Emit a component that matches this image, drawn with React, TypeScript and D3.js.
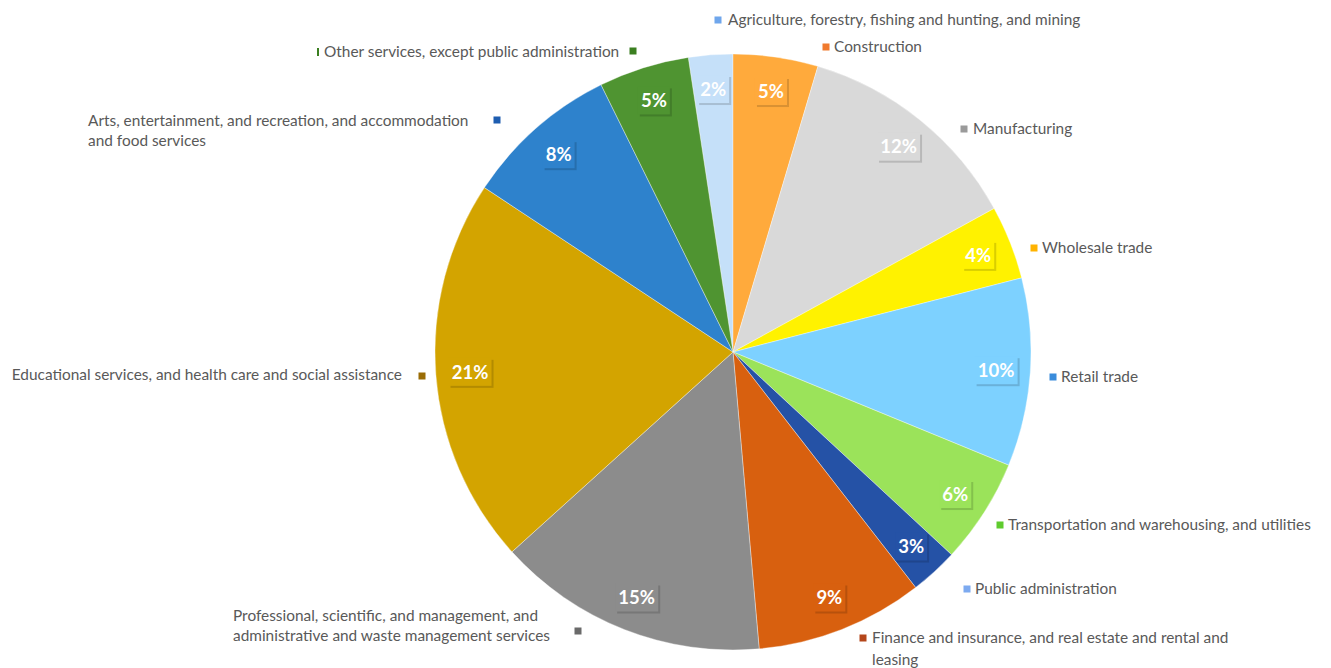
import React from "react";
import * as d3 from "d3";

const categories = [
  "Agriculture, forestry, fishing and hunting, and mining",
  "Construction",
  "Manufacturing",
  "Wholesale trade",
  "Retail trade",
  "Transportation and warehousing, and utilities",
  "Public administration",
  "Finance and insurance, and real estate and rental and leasing",
  "Professional, scientific, and management, and administrative and waste management services",
  "Educational services, and health care and social assistance",
  "Arts, entertainment, and recreation, and accommodation and food services",
  "Other services, except public administration",
];
const values = [2.4, 4.6, 12.4, 4.0, 10.2, 5.7, 2.6, 9.1, 14.7, 21.0, 8.4, 4.9];

const sliceColors = [
  "#C5E0F9", "#FFAA3C", "#D9D9D9", "#FFF200", "#7DD1FF", "#9BE35A",
  "#2552A6", "#D8600F", "#8C8C8C", "#D3A400", "#2E82CC", "#4F9431",
];
const markerColors = [
  "#6FA6EC", "#F07A2E", "#9A9A9A", "#FFB300", "#3A8CDB", "#5FCB2E",
  "#7DAAF0", "#B4461A", "#6A6A6A", "#9A6C05", "#1E5DB0", "#3B7F20",
];

// label layout: text lines, anchor x, line centers y, marker position, text anchor
const labelLayout = [
  { lines: ["Agriculture, forestry, fishing and hunting, and mining"], x: 728, y: [20], mx: 718, my: 20, anchor: "start" },
  { lines: ["Construction"], x: 834, y: [47], mx: 826, my: 47, anchor: "start" },
  { lines: ["Manufacturing"], x: 973, y: [129], mx: 964, my: 129, anchor: "start" },
  { lines: ["Wholesale trade"], x: 1042, y: [248], mx: 1034, my: 248, anchor: "start" },
  { lines: ["Retail trade"], x: 1061, y: [377], mx: 1053, my: 377, anchor: "start" },
  { lines: ["Transportation and warehousing, and utilities"], x: 1008, y: [525], mx: 1000, my: 525, anchor: "start" },
  { lines: ["Public administration"], x: 975, y: [589], mx: 967, my: 589, anchor: "start" },
  { lines: ["Finance and insurance, and real estate and rental and", "leasing"], x: 872, y: [638, 660], mx: 863, my: 638, anchor: "start" },
  { lines: ["Professional, scientific, and management, and", "administrative and waste management services"], x: 233, y: [616, 636], mx: 578, my: 631, anchor: "start" },
  { lines: ["Educational services, and health care and social assistance"], x: 402, y: [375], mx: 422, my: 376, anchor: "end" },
  { lines: ["Arts, entertainment, and recreation, and accommodation", "and food services"], x: 88, y: [121, 141], mx: 497, my: 120, anchor: "start" },
  { lines: ["Other services, except public administration"], x: 324, y: [52], mx: 633, my: 51, anchor: "start" },
];

const W = 1331;
const H = 668;
const CX = 733;
const CY = 352;
const R = 298;

export default function App() {
  const total = d3.sum(values);
  const pie = d3
    .pie<number>()
    .sort(null)
    .startAngle((-values[0] / total) * 2 * Math.PI)
    .endAngle((1 - values[0] / total) * 2 * Math.PI);
  const arcs = pie(values);
  const arc = d3.arc<d3.PieArcDatum<number>>().innerRadius(0).outerRadius(R);
  const labelArc = d3
    .arc<d3.PieArcDatum<number>>()
    .innerRadius(R * 0.885)
    .outerRadius(R * 0.885);
  const pct = d3.format(".0%");

  return (
    <svg
      width={W}
      height={H}
      style={{ position: "absolute", left: 0, top: 0, background: "#fff" }}
      fontFamily="Lato, 'Open Sans', sans-serif"
    >
      <g transform={`translate(${CX},${CY})`}>
        {arcs.map((a, i) => (
          <path key={i} d={arc(a) || ""} fill={sliceColors[i]} stroke="#ffffff" strokeWidth={0.6} strokeOpacity={0.6} />
        ))}
        {arcs.map((a, i) => {
          const [x, y] = labelArc.centroid(a);
          const t = pct(a.data / total);
          const w = t.length * 11 + 10;
          const h = 28;
          const dark = d3.color(sliceColors[i])!.darker(0.9).formatHex();
          return (
            <g key={"l" + i} transform={`translate(${x},${y})`}>
              <rect x={-w / 2 + 2} y={-h / 2 + 2} width={w} height={h} fill={dark} opacity={0.55} />
              <rect x={-w / 2} y={-h / 2} width={w} height={h} fill={sliceColors[i]} />
              <text
                textAnchor="middle"
                dy="0.36em"
                fill="#ffffff"
                fontWeight="bold"
                fontSize={18.5}
              >
                {t}
              </text>
            </g>
          );
        })}
      </g>
      {labelLayout.map((l, i) => (
        <g key={"c" + i}>
          <rect x={l.mx - 3.5} y={l.my - 3.5} width={7} height={7} fill={markerColors[i]} />
          {l.lines.map((line, j) => (
            <text
              key={j}
              x={l.x}
              y={l.y[j]}
              dy="0.35em"
              textAnchor={l.anchor as any}
              fontSize={15.4}
              fill="#595959"
            >
              {line}
            </text>
          ))}
        </g>
      ))}
      <rect x={317} y={48} width={2} height={8} fill={markerColors[11]} />
    </svg>
  );
}
